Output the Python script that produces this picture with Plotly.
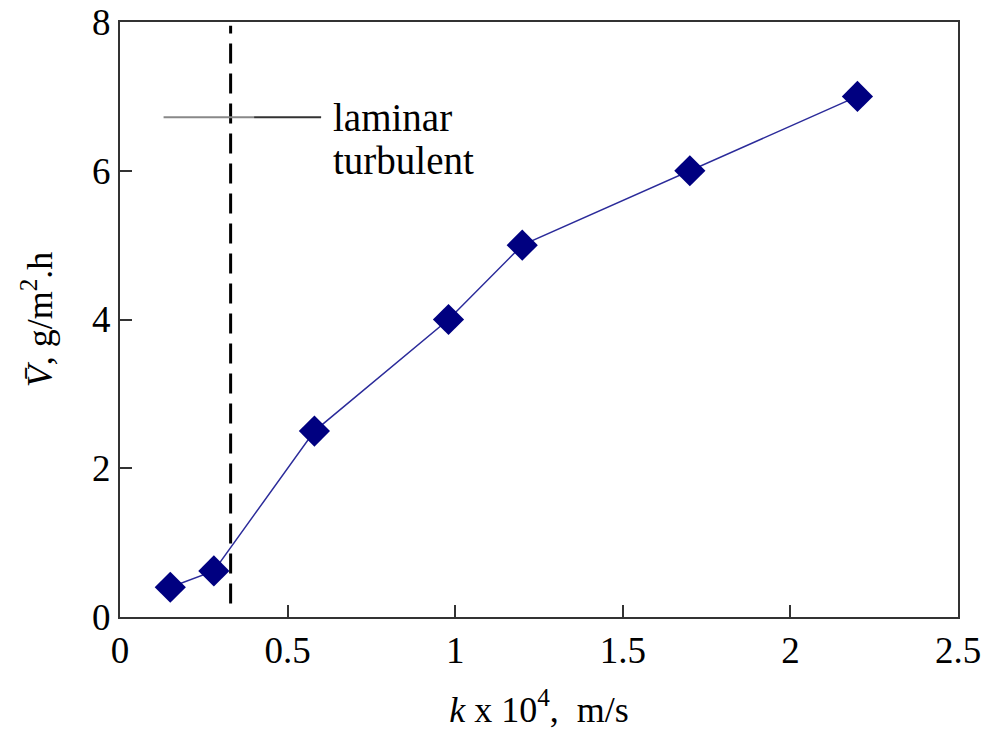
import plotly.graph_objects as go

# Data
k_values = [0.15, 0.28, 0.58, 0.98, 1.20, 1.70, 2.20]
v_values = [0.40, 0.62, 2.50, 4.00, 5.00, 6.00, 7.00]

x_tick_vals = [0, 0.5, 1, 1.5, 2, 2.5]
x_tick_text = ["0", "0.5", "1", "1.5", "2", "2.5"]
y_tick_vals = [0, 2, 4, 6, 8]
y_tick_text = ["0", "2", "4", "6", "8"]

transition_k = 0.33
transition_y = [0.18, 7.95]

legend_line_gray = [0.13, 0.40]
legend_line_dark = [0.40, 0.60]
legend_line_y = 6.72
legend_labels = ["laminar", "turbulent"]
legend_label_x = 0.63
legend_label_y = [6.72, 6.14]

FONT = "Liberation Serif, Times New Roman, serif"

fig = go.Figure()

# vertical dashed transition line
fig.add_trace(go.Scatter(
    x=[transition_k, transition_k], y=transition_y, mode="lines",
    line=dict(color="black", width=3, dash="20px,10px"),
    hoverinfo="skip", showlegend=False))

# legend-like horizontal line
fig.add_trace(go.Scatter(
    x=legend_line_gray, y=[legend_line_y, legend_line_y], mode="lines",
    line=dict(color="#888888", width=2), hoverinfo="skip", showlegend=False))
fig.add_trace(go.Scatter(
    x=legend_line_dark, y=[legend_line_y, legend_line_y], mode="lines",
    line=dict(color="#333333", width=2), hoverinfo="skip", showlegend=False))

# main series
fig.add_trace(go.Scatter(
    x=k_values, y=v_values, mode="lines+markers",
    line=dict(color="#2B2B9A", width=1.5),
    marker=dict(symbol="diamond", size=24, color="#000080"),
    showlegend=False))

for txt, yy in zip(legend_labels, legend_label_y):
    fig.add_annotation(x=legend_label_x, y=yy, text=txt, showarrow=False,
                       xanchor="left", yanchor="middle",
                       font=dict(family=FONT, size=39, color="black"))

fig.update_layout(
    width=986, height=734,
    margin=dict(l=120, r=28, t=22, b=117),
    paper_bgcolor="white", plot_bgcolor="white",
    font=dict(family=FONT, size=36, color="black"),
)
fig.update_xaxes(
    range=[0, 2.5], tickvals=x_tick_vals, ticktext=x_tick_text,
    ticks="inside", ticklen=12, tickwidth=2, tickcolor="#333",
    showline=True, linecolor="#333", linewidth=2, mirror=True,
    showgrid=False, zeroline=False, automargin=False,
    tickfont=dict(family=FONT, size=37),
    title=dict(text="<i>k</i> x 10<sup>4</sup>,  m/s", standoff=26,
               font=dict(family=FONT, size=36)),
)
fig.update_yaxes(
    range=[0, 8], tickvals=y_tick_vals, ticktext=y_tick_text,
    ticks="inside", ticklen=12, tickwidth=2, tickcolor="#333",
    showline=True, linecolor="#333", linewidth=2, mirror=True,
    showgrid=False, zeroline=False, automargin=False,
    tickfont=dict(family=FONT, size=37),
    title=dict(text="<i>V\u0304</i>, g/m<sup>2</sup>.h", standoff=28,
               font=dict(family=FONT, size=36)),
)

fig.write_html("out.html")
